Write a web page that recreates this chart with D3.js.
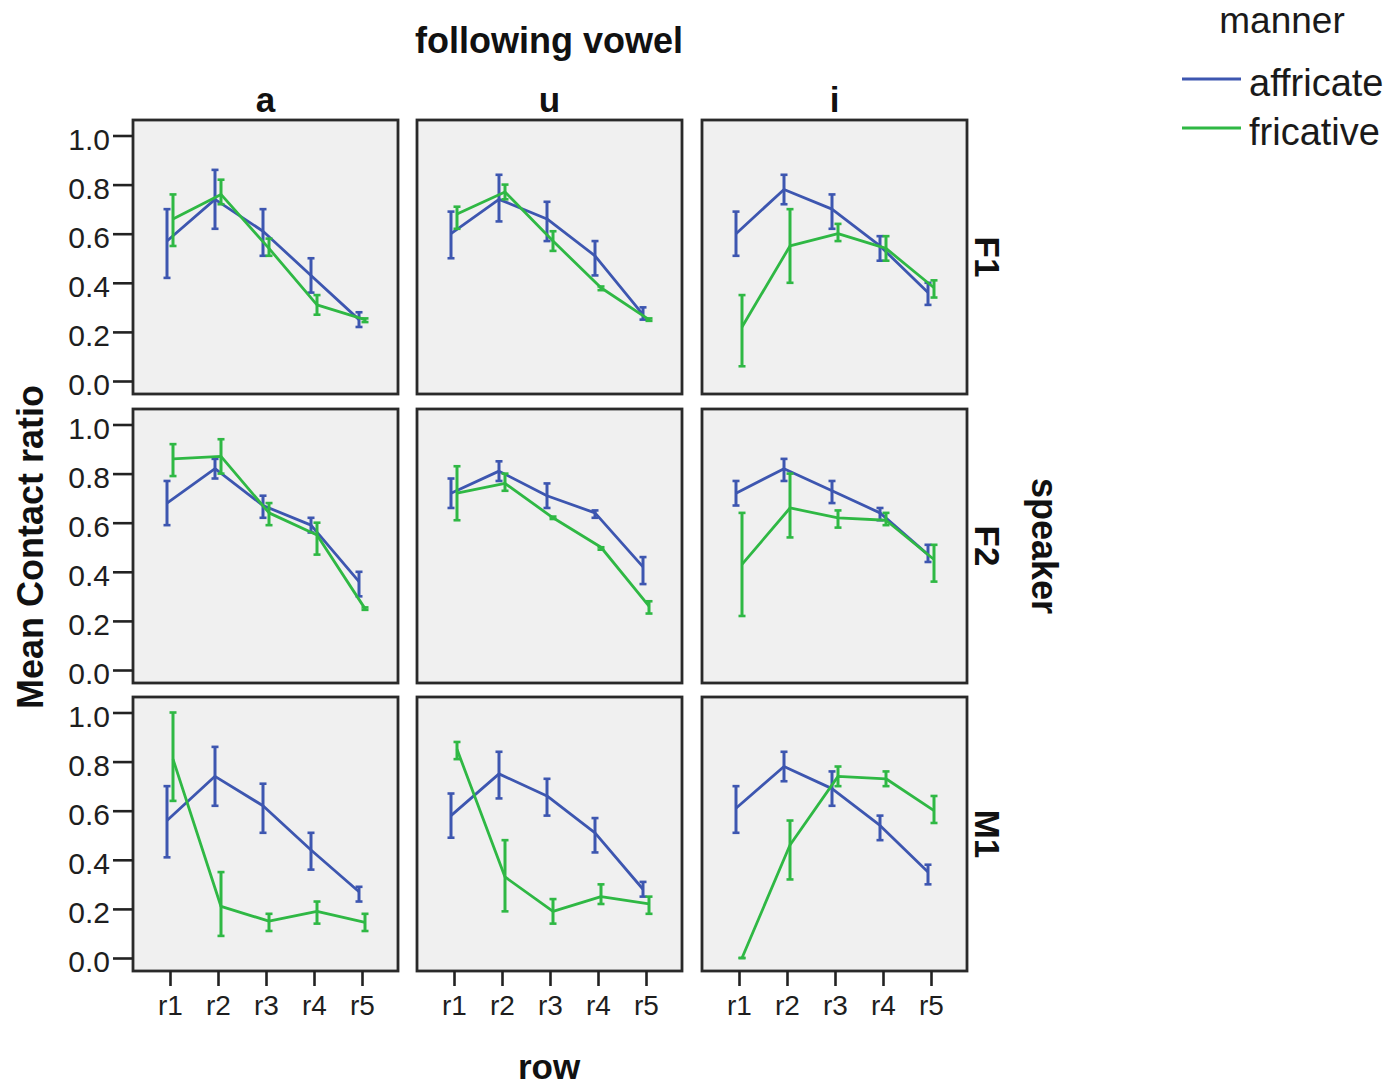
<!DOCTYPE html>
<html>
<head>
<meta charset="utf-8">
<script src="https://cdn.jsdelivr.net/npm/d3@7"></script>
<style>
  html, body { margin: 0; padding: 0; background: #ffffff; }
  svg { display: block; }
  text { font-family: "Liberation Sans", Arial, sans-serif; }
</style>
</head>
<body>
<svg id="chart" width="1389" height="1088"></svg>
<script>
// ---------- data ----------
const vowels = ["a", "u", "i"];
const speakers = ["F1", "F2", "M1"];
const rows = ["r1", "r2", "r3", "r4", "r5"];
const manners = ["affricate", "fricative"];
const yTicks = [0.0, 0.2, 0.4, 0.6, 0.8, 1.0];

// each array: [vowel a, vowel u, vowel i], values for r1..r5
const F1_affricate_mean = [[0.57,0.74,0.61,0.43,0.25],[0.60,0.74,0.66,0.51,0.27],[0.60,0.78,0.70,0.55,0.36]];
const F1_affricate_lo   = [[0.42,0.62,0.51,0.36,0.22],[0.50,0.65,0.57,0.43,0.25],[0.51,0.72,0.62,0.49,0.31]];
const F1_affricate_hi   = [[0.70,0.86,0.70,0.50,0.28],[0.69,0.84,0.73,0.57,0.30],[0.69,0.84,0.76,0.59,0.40]];
const F1_fricative_mean = [[0.66,0.76,0.54,0.31,0.25],[0.68,0.77,0.57,0.38,0.25],[0.22,0.55,0.60,0.54,0.38]];
const F1_fricative_lo   = [[0.55,0.72,0.51,0.27,0.24],[0.62,0.74,0.53,0.37,0.245],[0.06,0.40,0.57,0.49,0.34]];
const F1_fricative_hi   = [[0.76,0.82,0.58,0.35,0.255],[0.71,0.80,0.61,0.385,0.255],[0.35,0.70,0.64,0.59,0.41]];

const F2_affricate_mean = [[0.68,0.82,0.67,0.59,0.36],[0.72,0.81,0.71,0.64,0.42],[0.72,0.82,0.73,0.64,0.47]];
const F2_affricate_lo   = [[0.59,0.78,0.62,0.56,0.30],[0.66,0.77,0.66,0.62,0.35],[0.67,0.77,0.68,0.61,0.44]];
const F2_affricate_hi   = [[0.77,0.86,0.71,0.62,0.40],[0.78,0.85,0.76,0.65,0.46],[0.77,0.86,0.77,0.66,0.51]];
const F2_fricative_mean = [[0.86,0.87,0.64,0.55,0.25],[0.72,0.76,0.62,0.50,0.26],[0.43,0.66,0.62,0.61,0.45]];
const F2_fricative_lo   = [[0.79,0.80,0.59,0.47,0.245],[0.61,0.73,0.615,0.49,0.23],[0.22,0.54,0.58,0.59,0.36]];
const F2_fricative_hi   = [[0.92,0.94,0.68,0.60,0.255],[0.83,0.80,0.625,0.50,0.28],[0.64,0.80,0.65,0.64,0.51]];

const M1_affricate_mean = [[0.56,0.74,0.62,0.44,0.27],[0.58,0.75,0.66,0.51,0.28],[0.61,0.78,0.69,0.54,0.35]];
const M1_affricate_lo   = [[0.41,0.62,0.51,0.36,0.23],[0.49,0.65,0.58,0.43,0.25],[0.51,0.72,0.62,0.48,0.30]];
const M1_affricate_hi   = [[0.70,0.86,0.71,0.51,0.29],[0.67,0.84,0.73,0.57,0.31],[0.70,0.84,0.76,0.58,0.38]];
const M1_fricative_mean = [[0.81,0.21,0.15,0.19,0.145],[0.85,0.33,0.19,0.25,0.22],[0.00,0.46,0.74,0.73,0.60]];
const M1_fricative_lo   = [[0.64,0.09,0.11,0.14,0.11],[0.81,0.19,0.14,0.22,0.18],[0.00,0.32,0.70,0.70,0.55]];
const M1_fricative_hi   = [[1.00,0.35,0.18,0.23,0.18],[0.88,0.48,0.24,0.30,0.25],[0.00,0.56,0.78,0.76,0.66]];

// ---------- assemble ----------
const table = {
  F1: { affricate: [F1_affricate_mean, F1_affricate_lo, F1_affricate_hi], fricative: [F1_fricative_mean, F1_fricative_lo, F1_fricative_hi] },
  F2: { affricate: [F2_affricate_mean, F2_affricate_lo, F2_affricate_hi], fricative: [F2_fricative_mean, F2_fricative_lo, F2_fricative_hi] },
  M1: { affricate: [M1_affricate_mean, M1_affricate_lo, M1_affricate_hi], fricative: [M1_fricative_mean, M1_fricative_lo, M1_fricative_hi] }
};

const colors = { affricate: "#3d56b0", fricative: "#2fb844" };
const dodge = { affricate: -3, fricative: 3 };

const svg = d3.select("#chart");
svg.append("rect").attr("width", 1389).attr("height", 1088).attr("fill", "#ffffff");

const colLeft = [133, 417, 702];
const rowTop = [120, 409, 697];
const pw = 265, ph = 274;

const y = d3.scaleLinear().domain([0, 1]).range([261, 15.5]);
const x = d3.scalePoint().domain(rows).range([37, 229]);

speakers.forEach((sp, si) => {
  vowels.forEach((vw, vi) => {
    const g = svg.append("g").attr("transform", `translate(${colLeft[vi]},${rowTop[si]})`);
    g.append("rect")
      .attr("x", 0).attr("y", 0).attr("width", pw).attr("height", ph)
      .attr("fill", "#f0f0f0").attr("stroke", "#2a2a2a").attr("stroke-width", 2.8);

    if (vi === 0) {
      const ax = g.append("g").call(
        d3.axisLeft(y).tickValues(yTicks).tickSize(20).tickPadding(3).tickFormat(d3.format(".1f"))
      );
      ax.select(".domain").remove();
      ax.selectAll(".tick line").attr("stroke", "#222").attr("stroke-width", 2.6);
      ax.selectAll(".tick text").attr("font-size", 30).attr("fill", "#1e1e1e")
        .attr("font-family", "'Liberation Sans', Arial, sans-serif").attr("dy", "0.45em");
    }
    if (si === 2) {
      const ax = g.append("g").attr("transform", `translate(0,${ph})`).call(
        d3.axisBottom(x).tickSize(15)
      );
      ax.select(".domain").remove();
      ax.selectAll(".tick line").attr("stroke", "#222").attr("stroke-width", 2.6);
      ax.selectAll(".tick text").attr("font-size", 28).attr("fill", "#1e1e1e")
        .attr("font-family", "'Liberation Sans', Arial, sans-serif")
        .attr("y", 44).attr("dy", 0);
    }

    manners.forEach(m => {
      const [meanArr, loArr, hiArr] = table[sp][m];
      const pts = rows.map((r, k) => ({
        r: r, mean: meanArr[vi][k], lo: loArr[vi][k], hi: hiArr[vi][k]
      }));
      const px = d => x(d.r) + dodge[m];
      const line = d3.line().x(px).y(d => y(d.mean));
      g.append("path").datum(pts)
        .attr("d", line).attr("fill", "none")
        .attr("stroke", colors[m]).attr("stroke-width", 2.8).attr("stroke-linejoin", "round");
      const eb = g.append("g").attr("stroke", colors[m]);
      eb.selectAll("line.v").data(pts).enter().append("line")
        .attr("x1", px).attr("x2", px)
        .attr("y1", d => y(d.lo)).attr("y2", d => y(d.hi))
        .attr("stroke-width", 3);
      eb.selectAll("line.top").data(pts).enter().append("line")
        .attr("x1", d => px(d) - 3.5).attr("x2", d => px(d) + 3.5)
        .attr("y1", d => y(d.hi)).attr("y2", d => y(d.hi))
        .attr("stroke-width", 2.6);
      eb.selectAll("line.bot").data(pts).enter().append("line")
        .attr("x1", d => px(d) - 3.5).attr("x2", d => px(d) + 3.5)
        .attr("y1", d => y(d.lo)).attr("y2", d => y(d.lo))
        .attr("stroke-width", 2.6);
    });

    if (si === 0) {
      svg.append("text").attr("x", colLeft[vi] + pw / 2).attr("y", 112)
        .attr("text-anchor", "middle").attr("font-weight", "bold").attr("font-size", 35)
        .attr("fill", "#111").text(vw);
    }
  });
  svg.append("text")
    .attr("transform", `translate(975,${rowTop[si] + ph / 2}) rotate(90)`)
    .attr("text-anchor", "middle").attr("font-weight", "bold").attr("font-size", 35)
    .attr("fill", "#111").text(sp);
});

// titles
svg.append("text").attr("x", 549).attr("y", 53).attr("text-anchor", "middle")
  .attr("font-weight", "bold").attr("font-size", 36).attr("fill", "#111").text("following vowel");
svg.append("text").attr("x", 549).attr("y", 1079).attr("text-anchor", "middle")
  .attr("font-weight", "bold").attr("font-size", 35).attr("fill", "#111").text("row");
svg.append("text").attr("transform", "translate(1032,546) rotate(90)").attr("text-anchor", "middle")
  .attr("font-weight", "bold").attr("font-size", 36).attr("fill", "#111").text("speaker");
svg.append("text").attr("transform", "translate(43,547) rotate(-90)").attr("text-anchor", "middle")
  .attr("font-weight", "bold").attr("font-size", 36).attr("fill", "#111").text("Mean Contact ratio");

// legend
const legend = svg.append("g");
legend.append("text").attr("x", 1282).attr("y", 33).attr("text-anchor", "middle")
  .attr("font-size", 37).attr("fill", "#1a1a1a").text("manner");
const legY = [79, 128];
manners.forEach((m, i) => {
  legend.append("line").attr("x1", 1182).attr("x2", 1241).attr("y1", legY[i]).attr("y2", legY[i])
    .attr("stroke", colors[m]).attr("stroke-width", 2.8);
  legend.append("text").attr("x", 1249).attr("y", legY[i] + 17)
    .attr("font-size", 38).attr("fill", "#1a1a1a").text(m);
});
</script>
</body>
</html>
